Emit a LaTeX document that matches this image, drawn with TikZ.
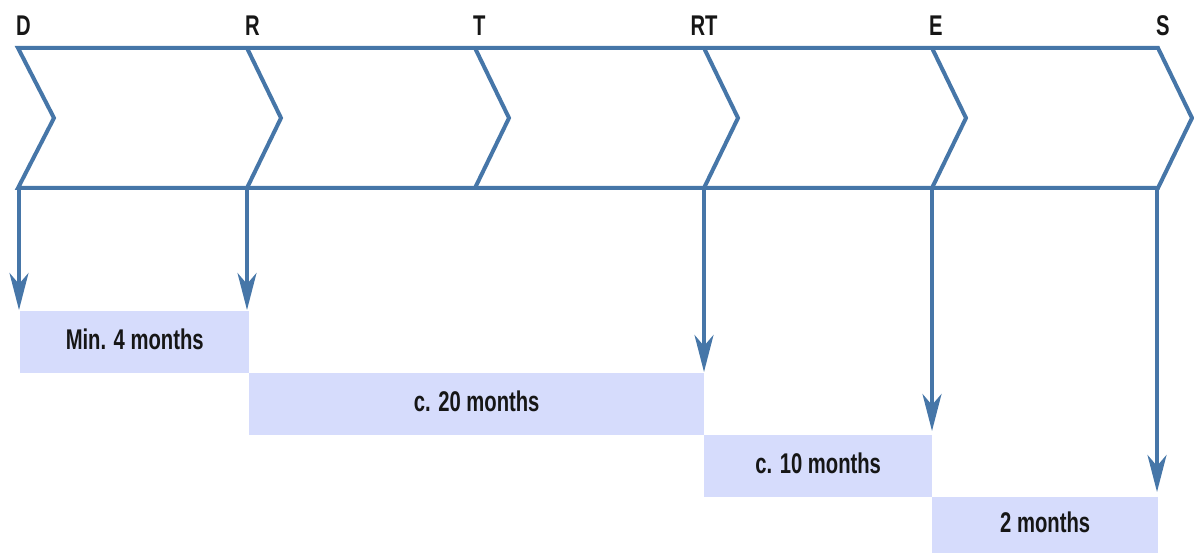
\documentclass[tikz,border=0pt]{standalone}
\usepackage{fontspec}
\newfontfamily\lblfont{Liberation Sans}[FakeStretch=0.71]
\usetikzlibrary{arrows.meta}
\definecolor{lineblue}{RGB}{70,118,168}
\definecolor{boxfill}{RGB}{214,220,252}
\definecolor{txt}{RGB}{22,22,22}
\tikzset{
  chev/.style={draw=lineblue, line width=4pt, line join=miter},
  arr/.style={draw=lineblue, line width=3.5pt, shorten >=1pt,
    -{Stealth[length=37pt, width=19pt, inset=11pt]}},
  phase/.style={font=\lblfont\bfseries\fontsize{28.5}{31}\selectfont, text=txt, inner sep=0pt},
  durbox/.style={fill=boxfill, draw=none, inner sep=0pt, anchor=north west,
    font=\lblfont\bfseries\fontsize{28.5}{31}\selectfont, text=txt,
    minimum height=62pt, text depth=6pt}
}
\begin{document}
\begin{tikzpicture}[x=1pt,y=-1pt]
\useasboundingbox (0,0) rectangle (1194,553);
% chevrons
\coordinate (tD) at (18,48);
\coordinate (tR) at (247,48);
\coordinate (tT) at (475,48);
\coordinate (tRT) at (704,48);
\coordinate (tE) at (932,48);
\coordinate (tS) at (1158,48);
\coordinate (bD) at (18,188);
\coordinate (bR) at (247,188);
\coordinate (bT) at (475,188);
\coordinate (bRT) at (704,188);
\coordinate (bE) at (932,188);
\coordinate (bS) at (1158,188);
\draw[chev] (tD) -- (tS) -- (1192,118) -- (bS) -- (bD) -- (54,118) -- cycle;
\foreach \p in {R,T,RT,E}{
  \draw[chev] (t\p) -- ([xshift=34pt,yshift=-70pt]t\p) -- (b\p);
}
% phase labels
\node[phase, anchor=base west] (lD) at (16,36) {D};
\node[phase, anchor=base west] (lR) at (245,36) {R};
\node[phase, anchor=base west] (lT) at (473,36) {T};
\node[phase, anchor=base] (lRT) at (704,36) {RT};
\node[phase, anchor=base west] (lE) at (929,36) {E};
\node[phase, anchor=base west] (lS) at (1156,36) {S};
% duration boxes
\node[durbox, minimum width=229pt] (b1) at (20,311) {Min. 4 months};
\node[durbox, minimum width=455pt] (b2) at (249,373) {c. 20 months};
\node[durbox, minimum width=228pt] (b3) at (704,435) {c. 10 months};
\node[durbox, minimum width=226pt, minimum height=56pt] (b4) at (932,497) {2 months};
% arrows
\coordinate (aD) at (19,188);
\coordinate (aR) at (247,188);
\coordinate (aRT) at (704,188);
\coordinate (aE) at (932,188);
\coordinate (aS) at (1157,188);
\draw[arr] (aD) -- (aD |- b1.north);
\draw[arr] (aR) -- (aR |- b1.north);
\draw[arr] (aRT) -- (aRT |- b2.north);
\draw[arr] (aE) -- ([yshift=3pt]aE |- b3.north);
\draw[arr] (aS) -- ([yshift=4pt]aS |- b4.north);
\end{tikzpicture}
\end{document}
